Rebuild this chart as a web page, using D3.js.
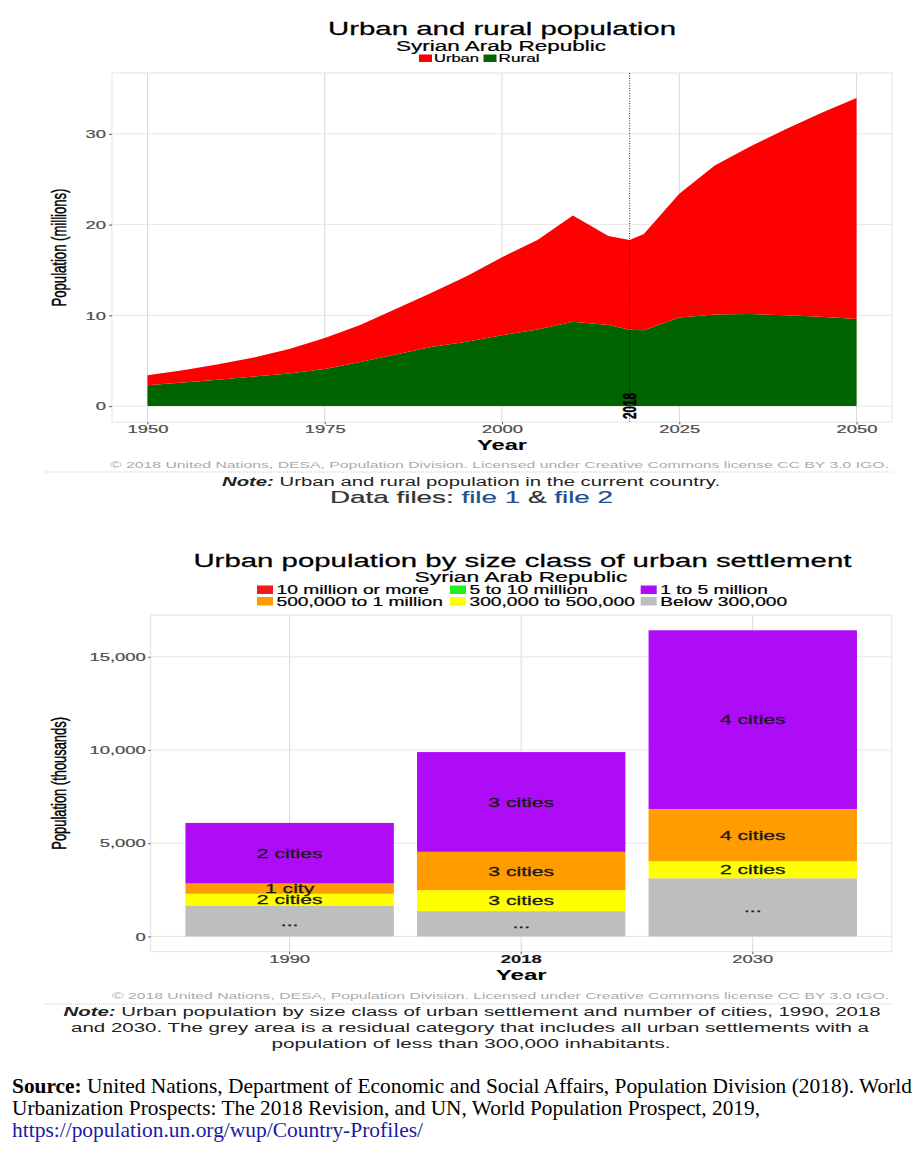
<!DOCTYPE html>
<html lang="en">
<head>
<meta charset="UTF-8">
<meta name="viewport" content="width=device-width, initial-scale=1.0">
<title>Urban and rural population - Syrian Arab Republic</title>
<script src="https://d3js.org/d3.v7.min.js"></script>
<style>
    body { margin: 0; background: #fff; }
    svg { display: block; }
</style>
</head>
<body>

<div id="chart"></div>

<script>
// ---- top chart: urban and rural population (millions)
const years = [1950, 1955, 1960, 1965, 1970, 1975, 1980, 1985, 1990, 1995, 2000,
               2005, 2010, 2015, 2018, 2020, 2025, 2030, 2035, 2040, 2045, 2050];
const ruralPop = [2.30, 2.60, 2.90, 3.25, 3.60, 4.10, 4.85, 5.70, 6.50, 7.10, 7.80,
                  8.45, 9.30, 8.95, 8.40, 8.35, 9.75, 10.10, 10.15, 10.00, 9.85, 9.60];
const urbanPop = [1.11, 1.35, 1.70, 2.10, 2.70, 3.40, 4.10, 5.00, 5.95, 7.20, 8.60,
                  9.85, 11.70, 9.80, 9.90, 10.60, 13.65, 16.40, 18.45, 20.50, 22.45, 24.35];
const currentYear = 2018;
const yearTicks = [1950, 1975, 2000, 2025, 2050];
const popTicks = [0, 10, 20, 30];

// ---- bottom chart: urban population by size class (thousands)
const barYears = ["1990", "2018", "2030"];
const below300k = [1660, 1355, 3120];
const from300kTo500k = [625, 1125, 910];
const from500kTo1m = [552, 2055, 2805];
const from1mTo5m = [3250, 5353, 9585];
const from5mTo10m = [0, 0, 0];
const over10m = [0, 0, 0];
const cities300kTo500k = [2, 3, 2];
const cities500kTo1m = [1, 3, 4];
const cities1mTo5m = [2, 3, 4];
const cities5mTo10m = [0, 0, 0];
const citiesOver10m = [0, 0, 0];
const thousandTicks = [0, 5000, 10000, 15000];

const SX = 1.6;   // the screenshot is stretched sideways
const SANS = "'Liberation Sans', Arial, Helvetica, sans-serif";
const SERIF = "'Liberation Serif', 'Times New Roman', serif";

const svg = d3.select("#chart").append("svg")
    .attr("width", 922)
    .attr("height", 1158);

function label(parent, str, x, y, o = {}) {
    const sx = o.sx || SX;
    const fill = o.fill || "#000";
    const t = parent.append("text")
        .attr("transform", `translate(${x},${y}) scale(${sx},1)` + (o.rotate ? ` rotate(${o.rotate})` : ""))
        .attr("text-anchor", o.anchor || "middle")
        .attr("font-family", o.family || SANS)
        .attr("font-size", o.size || 12)
        .attr("fill", fill);
    if (o.weight) t.attr("font-weight", o.weight);
    if (o.dy) t.attr("dy", o.dy);
    if (o.heavy) t.attr("stroke", fill).attr("stroke-width", o.heavy);
    if (o.width) t.attr("textLength", o.width / sx).attr("lengthAdjust", "spacingAndGlyphs");
    if (str != null) t.text(str);
    return t;
}

function styleAxis(g, left, gap) {
    g.attr("font-family", SANS).attr("font-size", 11.5);
    g.select(".domain").remove();
    g.selectAll(".tick line").attr("stroke", "#333").attr("stroke-width", 0.8);
    g.selectAll(".tick text")
        .attr("fill", "#4d4d4d")
        .attr("stroke", "#4d4d4d")
        .attr("stroke-width", 0.2)
        .attr("transform", `scale(${SX},1)`);
    if (left) g.selectAll(".tick text").attr("x", -gap / SX);
}

function separator(y) {
    svg.append("line")
        .attr("x1", 45).attr("x2", 893)
        .attr("y1", y).attr("y2", y)
        .attr("stroke", "#bdbdbd")
        .attr("stroke-width", 0.8)
        .attr("stroke-dasharray", "1,1");
}

// ================= top chart =================
const p1 = {left: 112, right: 892, top: 73, bottom: 422};
const x1 = d3.scaleLinear().domain([1945, 2055]).range([p1.left, p1.right]);
const y1 = d3.scaleLinear().domain([-1.75, 36.7]).range([p1.bottom, p1.top]);

label(svg, "Urban and rural population", 502, 35, {size: 18.4, width: 348, heavy: 0.25});
label(svg, "Syrian Arab Republic", 501, 51, {size: 13.8, width: 210, heavy: 0.2});

// legend
const topLegend = [
    {name: "Urban", color: "#ff0000", x: 419, w: 45},
    {name: "Rural", color: "#006400", x: 483.5, w: 41}
];
topLegend.forEach(d => {
    svg.append("rect").attr("x", d.x).attr("y", 54.5).attr("width", 13).attr("height", 7.5).attr("fill", d.color);
    label(svg, d.name, d.x + 15, 62, {size: 10.5, anchor: "start", width: d.w, heavy: 0.2});
});

const topChart = svg.append("g");
topChart.append("rect")
    .attr("x", p1.left).attr("y", p1.top)
    .attr("width", p1.right - p1.left).attr("height", p1.bottom - p1.top)
    .attr("fill", "#fff").attr("stroke", "#e3e3e3");

topChart.selectAll(".vgrid").data(yearTicks).enter().append("line")
    .attr("x1", d => x1(d)).attr("x2", d => x1(d))
    .attr("y1", p1.top).attr("y2", p1.bottom)
    .attr("stroke", "#d9d9d9");
topChart.selectAll(".hgrid").data(popTicks).enter().append("line")
    .attr("x1", p1.left).attr("x2", p1.right)
    .attr("y1", d => y1(d)).attr("y2", d => y1(d))
    .attr("stroke", "#e6e6e6");

const popRows = years.map((yr, i) => ({year: yr, rural: ruralPop[i], urban: urbanPop[i]}));
const popSeries = d3.stack().keys(["rural", "urban"])(popRows);
const areaColor = {rural: "#006400", urban: "#ff0000"};
const area = d3.area()
    .x(d => x1(d.data.year))
    .y0(d => y1(d[0]))
    .y1(d => y1(d[1]));

topChart.selectAll(".area").data(popSeries).enter().append("path")
    .attr("d", area)
    .attr("fill", d => areaColor[d.key]);

topChart.append("line")
    .attr("x1", x1(currentYear)).attr("x2", x1(currentYear))
    .attr("y1", p1.top).attr("y2", p1.bottom)
    .attr("stroke", "#000").attr("stroke-width", 0.8)
    .attr("stroke-dasharray", "1,1.5");
label(topChart, String(currentYear), x1(currentYear), y1(0), {size: 11.7, weight: "bold", rotate: -90, dy: "0.36em", heavy: 0.3});

const gx1 = topChart.append("g")
    .attr("transform", `translate(0,${p1.bottom})`)
    .call(d3.axisBottom(x1).tickValues(yearTicks).tickFormat(d3.format("d")).tickSize(2.5).tickPadding(0));
styleAxis(gx1, false);
const gy1 = topChart.append("g")
    .attr("transform", `translate(${p1.left},0)`)
    .call(d3.axisLeft(y1).tickValues(popTicks).tickSize(3).tickPadding(3));
styleAxis(gy1, true, 6);

label(svg, "Year", 502, 450, {size: 14, weight: "bold", width: 50});
label(svg, "Population (millions)", 66, (p1.top + p1.bottom) / 2, {size: 13.1, rotate: -90, heavy: 0.3});

label(svg, "\u00a9 2018 United Nations, DESA, Population Division. Licensed under Creative Commons license CC BY 3.0 IGO.",
      889, 468, {size: 9.5, anchor: "end", fill: "#ababab", width: 779});
separator(472);

const note1 = label(svg, null, 471, 486, {size: 12.5, fill: "#222", width: 498});
note1.append("tspan").attr("font-weight", "bold").attr("font-style", "italic").text("Note:");
note1.append("tspan").text(" Urban and rural population in the current country.");

const files = label(svg, null, 471.5, 503, {size: 17, fill: "#333", width: 283, heavy: 0.2});
files.append("tspan").text("Data files: ");
files.append("tspan").attr("fill", "#1d4f91").attr("stroke", "#1d4f91").text("file 1");
files.append("tspan").text(" & ");
files.append("tspan").attr("fill", "#1d4f91").attr("stroke", "#1d4f91").text("file 2");

// ================= bottom chart =================
const p2 = {left: 150.7, right: 891.7, top: 615, bottom: 951.7};
const sizeKeys = ["Below 300,000", "300,000 to 500,000", "500,000 to 1 million",
                  "1 to 5 million", "5 to 10 million", "10 million or more"];
const sizeValues = [below300k, from300kTo500k, from500kTo1m, from1mTo5m, from5mTo10m, over10m];
const sizeCities = [null, cities300kTo500k, cities500kTo1m, cities1mTo5m, cities5mTo10m, citiesOver10m];
const sizeColor = {
    "10 million or more": "#ee1c1c",
    "5 to 10 million": "#22ee22",
    "1 to 5 million": "#ae0cf6",
    "500,000 to 1 million": "#ff9c00",
    "300,000 to 500,000": "#ffff00",
    "Below 300,000": "#bebebe"
};

label(svg, "Urban population by size class of urban settlement", 522.4, 567, {size: 18.4, width: 658, heavy: 0.25});
label(svg, "Syrian Arab Republic", 521, 581.5, {size: 13.8, width: 213, heavy: 0.2});

const legendRows = [
    ["10 million or more", "5 to 10 million", "1 to 5 million"],
    ["500,000 to 1 million", "300,000 to 500,000", "Below 300,000"]
];
const legendCols = [257, 450, 640.7];
const legendTop = [585.5, 597];
legendRows.forEach((row, r) => {
    row.forEach((name, c) => {
        svg.append("rect")
            .attr("x", legendCols[c]).attr("y", legendTop[r])
            .attr("width", 16).attr("height", 8.5)
            .attr("fill", sizeColor[name]);
        label(svg, name, legendCols[c] + 19.5, legendTop[r] + 8.5, {size: 12, anchor: "start", heavy: 0.2});
    });
});

const bottomChart = svg.append("g");
bottomChart.append("rect")
    .attr("x", p2.left).attr("y", p2.top)
    .attr("width", p2.right - p2.left).attr("height", p2.bottom - p2.top)
    .attr("fill", "#fff").attr("stroke", "#e3e3e3");

const xb = d3.scaleBand().domain(barYears).range([p2.left, p2.right]).paddingInner(0.1).paddingOuter(0.15);
const barRows = barYears.map((yr, i) => {
    const row = {year: yr};
    sizeKeys.forEach((k, j) => { row[k] = sizeValues[j][i]; });
    return row;
});
const barTotals = barRows.map(r => d3.sum(sizeKeys, k => r[k]));
const maxTotal = d3.max(barTotals);
const yb = d3.scaleLinear().domain([-0.05 * maxTotal, 1.05 * maxTotal]).range([p2.bottom, p2.top]);

bottomChart.selectAll(".vgrid").data(barYears).enter().append("line")
    .attr("x1", d => xb(d) + xb.bandwidth() / 2).attr("x2", d => xb(d) + xb.bandwidth() / 2)
    .attr("y1", p2.top).attr("y2", p2.bottom)
    .attr("stroke", "#d9d9d9");
bottomChart.selectAll(".hgrid").data(thousandTicks).enter().append("line")
    .attr("x1", p2.left).attr("x2", p2.right)
    .attr("y1", d => yb(d)).attr("y2", d => yb(d))
    .attr("stroke", "#e6e6e6");

const barSeries = d3.stack().keys(sizeKeys)(barRows);
const layers = bottomChart.selectAll(".layer").data(barSeries).enter().append("g")
    .attr("fill", d => sizeColor[d.key]);
layers.selectAll("rect").data(d => d).enter().append("rect")
    .attr("x", d => xb(d.data.year))
    .attr("width", xb.bandwidth())
    .attr("y", d => yb(d[1]))
    .attr("height", d => yb(d[0]) - yb(d[1]));

barSeries.forEach((s, j) => {
    s.forEach((d, i) => {
        if (d[1] - d[0] <= 0) return;
        const n = sizeCities[j] ? sizeCities[j][i] : null;
        const txt = n == null ? "..." : (n === 1 ? "1 city" : `${n} cities`);
        label(bottomChart, txt, xb(d.data.year) + xb.bandwidth() / 2, yb((d[0] + d[1]) / 2),
              {size: 13.2, fill: "#1a1a1a", dy: "0.35em", heavy: 0.3});
    });
});

const gxb = bottomChart.append("g")
    .attr("transform", `translate(0,${p2.bottom})`)
    .call(d3.axisBottom(xb).tickSize(2.5).tickPadding(0.5));
styleAxis(gxb, false);
gxb.selectAll(".tick text").filter(d => d === String(currentYear))
    .attr("font-weight", "bold").attr("fill", "#111");
const gyb = bottomChart.append("g")
    .attr("transform", `translate(${p2.left},0)`)
    .call(d3.axisLeft(yb).tickValues(thousandTicks).tickFormat(d3.format(",")).tickSize(2.5).tickPadding(2.5));
styleAxis(gyb, true, 5);

label(svg, "Year", 521.2, 980, {size: 14, weight: "bold", width: 51});
label(svg, "Population (thousands)", 66, (p2.top + p2.bottom) / 2, {size: 12.9, rotate: -90, heavy: 0.3});

label(svg, "\u00a9 2018 United Nations, DESA, Population Division. Licensed under Creative Commons license CC BY 3.0 IGO.",
      889, 999, {size: 9.5, anchor: "end", fill: "#ababab", width: 777});
separator(1004);

const note2 = label(svg, null, 472, 1016, {size: 12.5, fill: "#222", width: 817});
note2.append("tspan").attr("font-weight", "bold").attr("font-style", "italic").text("Note:");
note2.append("tspan").text(" Urban population by size class of urban settlement and number of cities, 1990, 2018");
label(svg, "and 2030. The grey area is a residual category that includes all urban settlements with a",
      470, 1032, {size: 12.5, fill: "#222", width: 798});
label(svg, "population of less than 300,000 inhabitants.", 471, 1048, {size: 12.5, fill: "#222", width: 399});

// ================= source =================
const src1 = label(svg, null, 12, 1093, {sx: 1, family: SERIF, size: 22, anchor: "start", width: 900});
src1.append("tspan").attr("font-weight", "bold").text("Source:");
src1.append("tspan").text(" United Nations, Department of Economic and Social Affairs, Population Division (2018). World");
label(svg, "Urbanization Prospects: The 2018 Revision, and UN, World Population Prospect, 2019,",
      12, 1115, {sx: 1, family: SERIF, size: 22, anchor: "start", width: 748});
label(svg, "https://population.un.org/wup/Country-Profiles/",
      12, 1137, {sx: 1, family: SERIF, size: 22, anchor: "start", fill: "#1a1aa6", width: 411});
</script>
</body>
</html>
